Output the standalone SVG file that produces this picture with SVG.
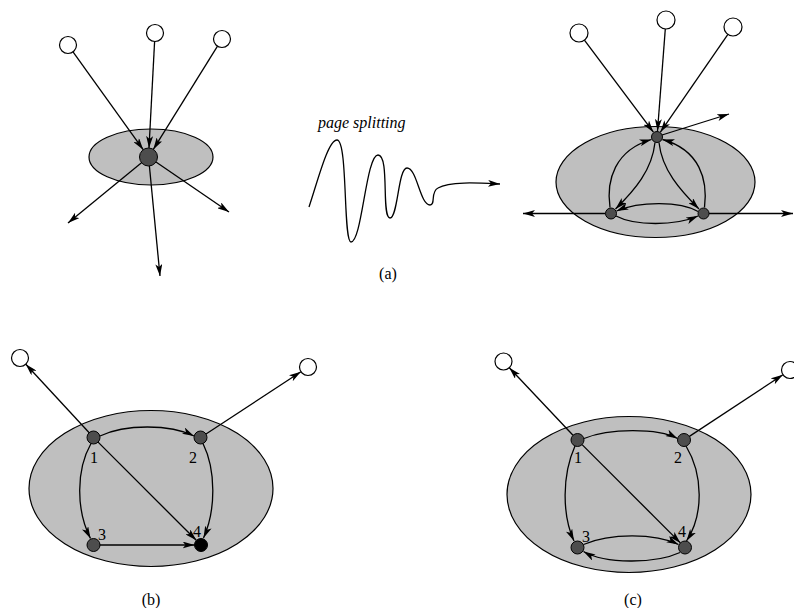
<svg xmlns="http://www.w3.org/2000/svg" width="794" height="608" viewBox="0 0 794 608">
<defs>
<marker id="ah" viewBox="0 0 12 7" markerWidth="12" markerHeight="7" refX="12" refY="3.5" orient="auto" markerUnits="userSpaceOnUse">
<path d="M0,0 L12,3.5 L0,7 L3,3.5 z" fill="#000"/>
</marker>
<style>
.reg{fill:#bfbfbf;stroke:#000;stroke-width:1.2}
.n{fill:#4d4d4d;stroke:#000;stroke-width:1}
.nb{fill:#000;stroke:#000;stroke-width:1}
.w{fill:#fff;stroke:#000;stroke-width:1.2}
.e{fill:none;stroke:#000;stroke-width:1.3;marker-end:url(#ah)}
.lbl{font-family:"Liberation Serif","Times New Roman",serif;font-size:16px;fill:#000}
.cap{font-family:"Liberation Serif","Times New Roman",serif;font-size:16px;fill:#000;text-anchor:middle}
</style>
</defs>
<rect width="794" height="608" fill="#fff"/>

<!-- (a) left -->
<g id="a-left-region"><ellipse class="reg" cx="151" cy="157" rx="62" ry="28"/></g>
<g id="a-left-src1"><circle class="w" cx="68" cy="45" r="8.5"/></g>
<g id="a-left-src2"><circle class="w" cx="155" cy="33" r="8.5"/></g>
<g id="a-left-src3"><circle class="w" cx="222" cy="39" r="8.5"/></g>

<!-- (a) right -->
<g id="a-right-region"><ellipse class="reg" cx="655.5" cy="182" rx="99.5" ry="55.5"/></g>
<g id="a-right-src1"><circle class="w" cx="579" cy="33" r="9"/></g>
<g id="a-right-src2"><circle class="w" cx="666" cy="20" r="9"/></g>
<g id="a-right-src3"><circle class="w" cx="733" cy="27" r="9"/></g>

<!-- (b) -->
<g id="b-region"><ellipse class="reg" cx="151" cy="488.5" rx="122" ry="78"/></g>
<g id="b-w1"><circle class="w" cx="20" cy="358" r="8.5"/></g>
<g id="b-w2"><circle class="w" cx="308" cy="367" r="8.5"/></g>

<!-- (c) -->
<g id="c-region"><ellipse class="reg" cx="629" cy="494.5" rx="122" ry="78"/></g>
<g id="c-w1"><circle class="w" cx="503.5" cy="361.5" r="8.5"/></g>
<g id="c-w2"><circle class="w" cx="790" cy="370" r="8.5"/></g>

<g id="connectors">
<!-- (a) left -->
<line class="e" x1="73" y1="51.9" x2="143.2" y2="149.7"/>
<line class="e" x1="154.6" y1="41.5" x2="149" y2="148"/>
<line class="e" x1="217.5" y1="46.2" x2="153.3" y2="149.4"/>
<line class="e" x1="141.5" y1="162.7" x2="68" y2="223"/>
<line class="e" x1="156" y1="162" x2="229" y2="212"/>
<line class="e" x1="149.4" y1="166" x2="160" y2="276"/>
<!-- squiggle -->
<path class="e" d="M309,207 C318,180 328,140 337,140 C348,140 343,242 351,242 C362,242 366,155 378,155 C390,155 381,218 390,218 C398,218 398,168 407,168 C417,168 420,205 430,205 C436,205 430,192 438,188 C450,181 480,183 500,184"/>
<!-- (a) right -->
<line class="e" x1="584.4" y1="40.2" x2="653.4" y2="132.2"/>
<line class="e" x1="665.3" y1="29" x2="657.5" y2="131"/>
<line class="e" x1="727.9" y1="34.4" x2="660.4" y2="132.1"/>
<line class="e" x1="662" y1="135" x2="729" y2="114"/>
<line class="e" x1="605.5" y1="213.5" x2="523" y2="213.5"/>
<line class="e" x1="709" y1="213.5" x2="793" y2="213.5"/>
<path class="e" d="M655,142.5 C652,170 635,190 615.5,209"/>
<path class="e" d="M610,207.5 C606,180 615,150 651.5,139.5"/>
<path class="e" d="M659,142.5 C662,170 680,190 699,209"/>
<path class="e" d="M704.5,207.5 C708,180 700,150 662.5,139.5"/>
<path class="e" d="M698,211.5 C680,201 640,201 616.5,211"/>
<path class="e" d="M616,216 C635,226 675,226 698,216"/>
<!-- (b) -->
<line class="e" x1="89.2" y1="432.8" x2="25.8" y2="364.2"/>
<line class="e" x1="206" y1="434" x2="300.9" y2="371.7"/>
<path class="e" d="M100,436 C125,424 170,424 194,436"/>
<path class="e" d="M91,443.5 C76,470 76,510 90.5,538.5"/>
<path class="e" d="M203,443.5 C216,470 216,510 203.5,538"/>
<line class="e" x1="98.1" y1="442.1" x2="196.3" y2="540.3"/>
<line class="e" x1="100" y1="545" x2="194.5" y2="545"/>
<!-- (c) -->
<line class="e" x1="573" y1="435.2" x2="509.3" y2="367.7"/>
<line class="e" x1="689.4" y1="436.4" x2="782.9" y2="374.7"/>
<path class="e" d="M584,438.5 C609,428 658,428 677.5,438.5"/>
<path class="e" d="M575,446 C562,475 562,515 574,541"/>
<path class="e" d="M686,446 C703.5,475 703.5,515 686.5,541"/>
<line class="e" x1="582.1" y1="444.6" x2="680.4" y2="542.9"/>
<path class="e" d="M583.5,544.5 C610,533 655,533 678.5,544.5"/>
<path class="e" d="M680,552.5 C655,564 605,564 583.5,551.5"/>
</g>

<g id="a-left-hub"><circle class="n" cx="148.5" cy="157" r="9"/></g>
<g id="a-right-top"><circle class="n" cx="657" cy="137" r="5.5"/></g>
<g id="a-right-bl"><circle class="n" cx="611" cy="213.5" r="5.5"/></g>
<g id="a-right-br"><circle class="n" cx="703.5" cy="213.5" r="5.5"/></g>

<g id="b-n1"><circle class="n" cx="93.5" cy="437.5" r="6.5"/><text class="lbl" x="94" y="463" text-anchor="middle">1</text></g>
<g id="b-n2"><circle class="n" cx="200.5" cy="437.5" r="6.5"/><text class="lbl" x="193" y="463" text-anchor="middle">2</text></g>
<g id="b-n3"><circle class="n" cx="93.5" cy="545" r="6.5"/><text class="lbl" x="102" y="540" text-anchor="middle">3</text></g>
<g id="b-n4"><circle class="nb" cx="201" cy="545" r="6.5"/><text class="lbl" x="197" y="537" text-anchor="middle">4</text></g>

<g id="c-n1"><circle class="n" cx="577.5" cy="440" r="6.5"/><text class="lbl" x="578" y="463" text-anchor="middle">1</text></g>
<g id="c-n2"><circle class="n" cx="684" cy="440" r="6.5"/><text class="lbl" x="678" y="463" text-anchor="middle">2</text></g>
<g id="c-n3"><circle class="n" cx="577.5" cy="547.5" r="6.5"/><text class="lbl" x="586" y="542" text-anchor="middle">3</text></g>
<g id="c-n4"><circle class="n" cx="685" cy="547.5" r="6.5"/><text class="lbl" x="682" y="537" text-anchor="middle">4</text></g>

<g id="labels">
<text class="lbl" x="318" y="128" font-style="italic">page splitting</text>
<text class="cap" x="388" y="279">(a)</text>
<text class="cap" x="151" y="605">(b)</text>
<text class="cap" x="633" y="605">(c)</text>
</g>
</svg>
